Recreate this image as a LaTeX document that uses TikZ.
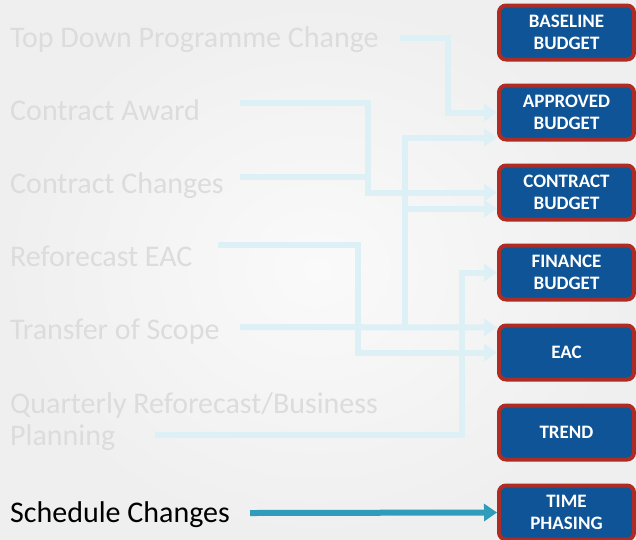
\documentclass[tikz,border=0pt]{standalone}
\usepackage{fontspec}
\setmainfont{Carlito}
\usetikzlibrary{arrows.meta,positioning}

\definecolor{boxblue}{RGB}{14,84,150}
\definecolor{boxred}{RGB}{172,44,38}
\definecolor{fadetext}{RGB}{220,220,220}
\definecolor{feedline}{RGB}{220,240,246}
\definecolor{schedline}{RGB}{46,156,186}
\definecolor{pagebg}{RGB}{239,239,239}
\definecolor{pagemid}{RGB}{250,250,250}

\begin{document}
\begin{tikzpicture}[x=1pt,y=-1pt,node distance=80pt,
  budget/.style={draw=boxred,fill=boxblue,line width=4pt,rounded corners=7pt,
    minimum width=135pt,minimum height=54pt,inner sep=0pt,align=center,
    text=white,font=\fontsize{19}{22}\selectfont\bfseries},
  source/.style={anchor=base west,inner sep=0pt,align=left,text=fadetext,
    font=\fontsize{30}{32}\selectfont},
  feed/.style={draw=feedline,line width=6pt,-{Triangle[length=13pt,width=17pt]}},
  feedjoin/.style={draw=feedline,line width=6pt},
  sched/.style={draw=schedline,line width=6pt,-{Triangle[length=13pt,width=17pt]}}]

  \shade[inner color=pagemid,outer color=pagebg] (0,0) rectangle (636,539);
  \useasboundingbox (0,0) rectangle (636,539);

  % budget boxes on the right
  \node[budget] (baseline) at (566.5,32.5) {BASELINE\\BUDGET};
  \node[budget] (approved) [below of=baseline] {APPROVED\\BUDGET};
  \node[budget] (contract) [below of=approved] {CONTRACT\\BUDGET};
  \node[budget] (finance) [below of=contract] {FINANCE\\BUDGET};
  \node[budget] (eac) [below of=finance] {EAC};
  \node[budget] (trend) [below of=eac] {TREND};
  \node[budget] (timing) [below of=trend] {TIME\\PHASING};

  % change sources on the left
  \node[source] (topdown) at (10,47) {Top Down Programme Change};
  \node[source] (award) at (10,120) {Contract Award};
  \node[source] (changes) at (10,193) {Contract Changes};
  \node[source] (refc) at (10,266) {Reforecast EAC};
  \node[source] (scope) at (10,339) {Transfer of Scope};
  \node[source] (quarter) at (10,445) {Quarterly Reforecast/Business\\Planning};
  \node[source,text=black] (schedule) at (10,522) {Schedule Changes};

  \coordinate (tdOut) at (400,38);
  \coordinate (caOut) at (240,103);
  \coordinate (caBend) at (368,103);
  \coordinate (ccOut) at (240,177);
  \coordinate (reOut) at (218,245);
  \coordinate (tsOut) at (240,327);
  \coordinate (tsJoin) at (405,327);
  \coordinate (qpOut) at (155,435);
  \coordinate (scOut) at (250,513);

  \draw[feed] (tdOut) -- ++(48,0) |- (approved.west);
  \draw[feedjoin] (ccOut) -| (caBend);
  \draw[feed] (caOut) -- (caBend) |- (contract.west);
  \draw[feed] (reOut) -- ++(140,0) |- (eac.west);
  \draw[feed] (qpOut) -- ++(307,0) |- (finance.west);
  \draw[feed] (tsOut) -- ([yshift=25pt]eac.west);
  \draw[feed] (tsJoin) |- ([yshift=-16pt]contract.west);
  \draw[feed] (tsJoin) |- ([yshift=-25pt]approved.west);
  \draw[sched] (scOut) -- (timing.west);

\end{tikzpicture}
\end{document}
